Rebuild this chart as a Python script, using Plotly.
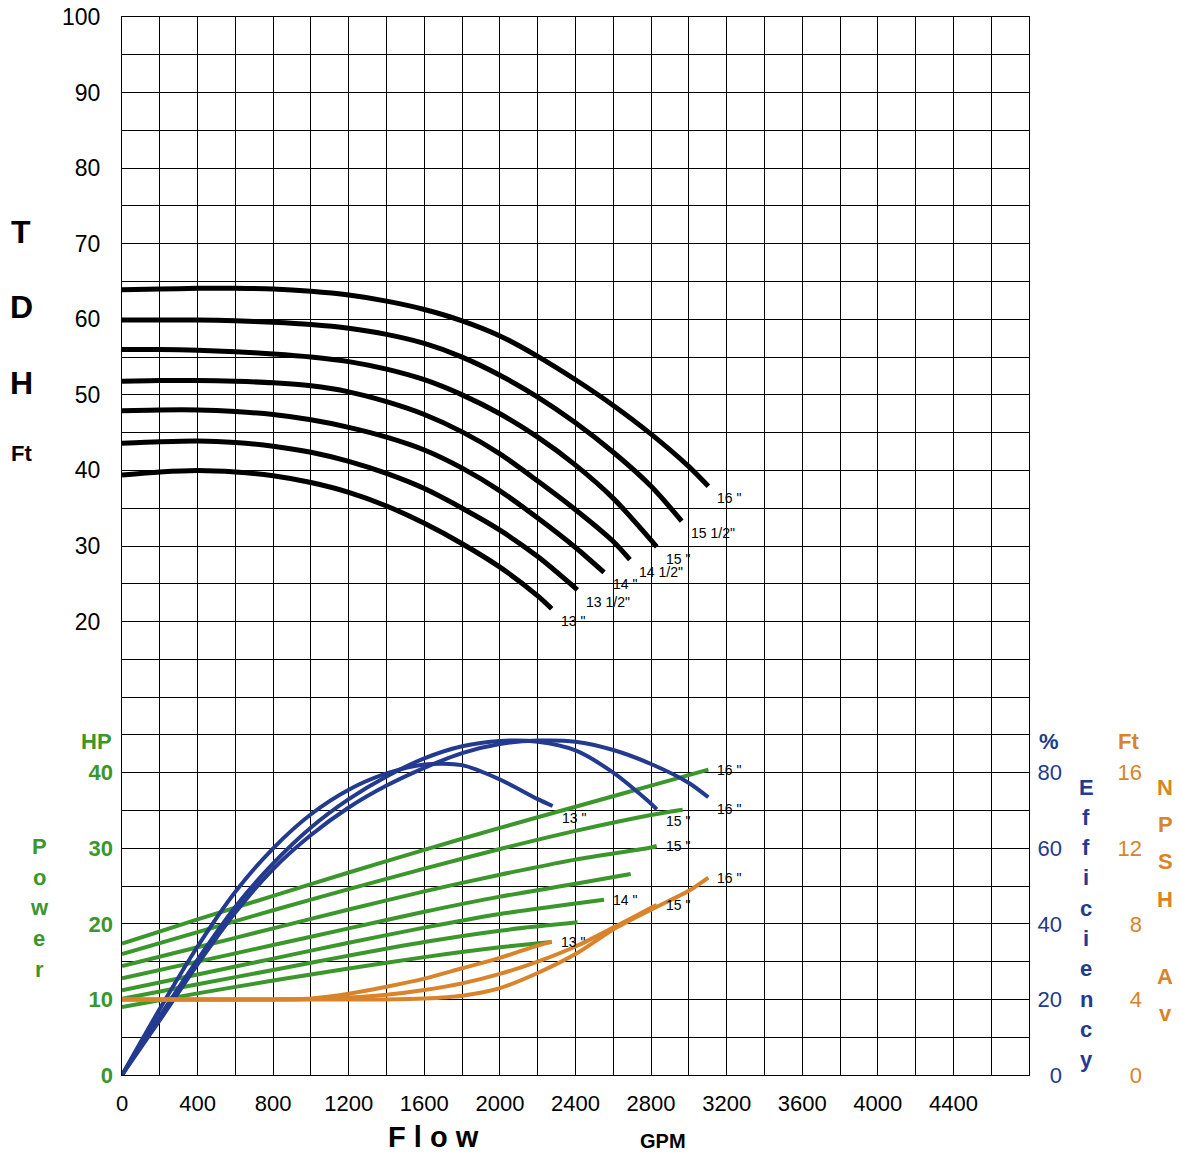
import plotly.graph_objects as go

# ---------------- data ----------------
# Head (TDH, ft) curves
head_q = {
    '16':   [0, 200, 400, 600, 800, 1000, 1200, 1400, 1600, 1800, 2000, 2200, 2400, 2600, 2800, 3000, 3103],
    '15.5': [0, 200, 400, 600, 800, 1000, 1200, 1400, 1600, 1800, 2000, 2200, 2400, 2600, 2800, 2962],
    '15':   [0, 200, 400, 600, 800, 1000, 1200, 1400, 1600, 1800, 2000, 2200, 2400, 2600, 2830],
    '14.5': [0, 200, 400, 600, 800, 1000, 1200, 1400, 1600, 1800, 2000, 2200, 2400, 2600, 2688],
    '14':   [0, 200, 400, 600, 800, 1000, 1200, 1400, 1600, 1800, 2000, 2200, 2400, 2551],
    '13.5': [0, 200, 400, 600, 800, 1000, 1200, 1400, 1600, 1800, 2000, 2200, 2410],
    '13':   [0, 200, 400, 600, 800, 1000, 1200, 1400, 1600, 1800, 2000, 2200, 2274],
}
head_h = {
    '16':   [63.9, 64.0, 64.1, 64.1, 64.0, 63.7, 63.2, 62.4, 61.3, 59.8, 57.8, 55.1, 52.0, 48.6, 44.8, 40.5, 37.9],
    '15.5': [59.9, 59.9, 59.9, 59.8, 59.6, 59.3, 58.8, 58.0, 56.8, 55.0, 52.6, 49.7, 46.3, 42.4, 37.9, 33.3],
    '15':   [56.0, 56.0, 55.9, 55.7, 55.4, 55.0, 54.4, 53.4, 52.0, 50.0, 47.5, 44.4, 40.7, 36.3, 29.9],
    '14.5': [51.8, 51.9, 51.9, 51.8, 51.6, 51.2, 50.4, 49.1, 47.4, 45.1, 42.2, 38.6, 34.8, 30.6, 28.2],
    '14':   [47.9, 48.0, 48.0, 47.8, 47.4, 46.7, 45.7, 44.4, 42.7, 40.3, 37.3, 33.7, 29.8, 26.5],
    '13.5': [43.6, 43.8, 43.9, 43.7, 43.2, 42.4, 41.2, 39.6, 37.6, 35.0, 32.1, 28.6, 24.2],
    '13':   [39.4, 39.8, 40.0, 39.8, 39.3, 38.4, 37.1, 35.3, 33.0, 30.3, 27.2, 23.4, 21.7],
}
head_labels = {'16': '16 "', '15.5': '15 1/2"', '15': '15 "', '14.5': '14 1/2"',
               '14': '14 "', '13.5': '13 1/2"', '13': '13 "'}

# Power (HP) curves
hp_q = {
    '16':   [0, 400, 800, 1200, 1600, 2000, 2400, 2800, 3103],
    '15.5': [0, 400, 800, 1200, 1600, 2000, 2400, 2800, 2967],
    '15':   [0, 400, 800, 1200, 1600, 2000, 2400, 2800, 2830],
    '14.5': [0, 400, 800, 1200, 1600, 2000, 2400, 2692],
    '14':   [0, 400, 800, 1200, 1600, 2000, 2400, 2551],
    '13.5': [0, 400, 800, 1200, 1600, 2000, 2411],
    '13':   [0, 400, 800, 1200, 1600, 2000, 2274],
}
hp_v = {
    '16':   [17.4, 20.6, 23.7, 26.8, 29.8, 32.7, 35.5, 38.3, 40.4],
    '15.5': [16.0, 18.9, 21.8, 24.6, 27.3, 29.9, 32.3, 34.4, 35.1],
    '15':   [14.4, 16.9, 19.4, 21.9, 24.3, 26.5, 28.5, 30.1, 30.3],
    '14.5': [12.8, 15.0, 17.2, 19.4, 21.6, 23.6, 25.3, 26.6],
    '14':   [11.2, 13.3, 15.4, 17.5, 19.5, 21.3, 22.7, 23.2],
    '13.5': [10.1, 12.0, 13.9, 15.8, 17.6, 19.1, 20.2],
    '13':   [9.0, 10.8, 12.5, 14.1, 15.6, 16.9, 17.6],
}
hp_labels = {'16': '16 "', '15': '15 "', '14': '14 "', '13': '13 "'}

# Efficiency (%) curves
eff_q = {
    '13': [0, 200, 400, 600, 800, 1000, 1200, 1400, 1600, 1800, 2000, 2200, 2279],
    '15': [0, 200, 400, 600, 800, 1000, 1200, 1400, 1600, 1800, 2000, 2200, 2400, 2600, 2800, 2830],
    '16': [0, 200, 400, 600, 800, 1000, 1200, 1400, 1600, 1800, 2000, 2200, 2400, 2600, 2800, 3000, 3103],
}
eff_v = {
    '13': [0, 17.5, 34.0, 48.5, 60.0, 69.0, 75.5, 79.8, 82.2, 82.0, 78.2, 73.0, 71.2],
    '15': [0, 15.5, 30.5, 44.5, 56.0, 65.5, 73.0, 79.0, 83.8, 87.0, 88.4, 88.2, 85.9, 80.0, 71.8, 70.3],
    '16': [0, 14.5, 29.3, 43.0, 54.5, 63.5, 70.8, 76.6, 81.3, 85.2, 87.6, 88.5, 88.2, 86.0, 82.3, 77.3, 73.5],
}

# NPSH available (ft) curves
npsh_q = {
    '13': [0, 200, 400, 600, 800, 1000, 1200, 1400, 1600, 1800, 2000, 2200, 2274],
    '15': [0, 200, 400, 600, 800, 1000, 1200, 1400, 1600, 1800, 2000, 2200, 2400, 2600, 2800, 2830],
    '16': [0, 200, 400, 600, 800, 1000, 1200, 1400, 1600, 1800, 2000, 2200, 2400, 2600, 2800, 3000, 3103],
}
npsh_v = {
    '13': [4.0, 4.0, 4.0, 4.0, 4.0, 4.05, 4.3, 4.67, 5.1, 5.65, 6.2, 6.85, 7.06],
    '15': [4.0, 4.0, 4.0, 4.0, 4.0, 4.02, 4.1, 4.25, 4.5, 4.85, 5.35, 6.0, 6.8, 7.8, 8.85, 9.0],
    '16': [4.0, 4.0, 4.0, 4.0, 4.0, 4.0, 4.0, 4.0, 4.05, 4.2, 4.6, 5.4, 6.4, 7.7, 8.75, 9.75, 10.45],
}

x_ticks = list(range(0, 4801, 200))
x_labels = [str(v) if (v % 400 == 0 and v < 4800) else '' for v in x_ticks]
tdh_ticks = list(range(-40, 101, 5))
tdh_labels = [str(v) if (v >= 20 and v % 10 == 0) else '' for v in tdh_ticks]
hp_ticks = [0, 10, 20, 30, 40]
eff_ticks = [0, 20, 40, 60, 80]
npsh_ticks = [0, 4, 8, 12, 16]

# ---------------- style ----------------
BLUE = '#233a8f'
GREEN = '#3b962b'
ORANGE = '#d9832a'
FONT = 'Liberation Sans, Arial, sans-serif'

W, H = 1180, 1153
L, R, T, B = 122, 20, 17, 78
PW = W - L - R
PH = H - T - B
XDOM = 907 / PW


def px(xp):
    return (xp - L) / PW


def py(yp):
    return (H - B - yp) / PH


fig = go.Figure()

for k in head_q:
    fig.add_trace(go.Scatter(x=head_q[k], y=head_h[k], mode='lines', yaxis='y',
                             line=dict(color='black', width=5, shape='spline', smoothing=0.8),
                             hoverinfo='skip', showlegend=False))
for k in hp_q:
    fig.add_trace(go.Scatter(x=hp_q[k], y=hp_v[k], mode='lines', yaxis='y2',
                             line=dict(color=GREEN, width=4, shape='spline', smoothing=0.8),
                             hoverinfo='skip', showlegend=False))
for k in eff_q:
    fig.add_trace(go.Scatter(x=eff_q[k], y=eff_v[k], mode='lines', yaxis='y3',
                             line=dict(color=BLUE, width=4, shape='spline', smoothing=0.8),
                             hoverinfo='skip', showlegend=False))
for k in npsh_q:
    fig.add_trace(go.Scatter(x=npsh_q[k], y=npsh_v[k], mode='lines', yaxis='y4',
                             line=dict(color=ORANGE, width=4, shape='spline', smoothing=0.8),
                             hoverinfo='skip', showlegend=False))

ann = []
lab_font = dict(family=FONT, size=14, color='black')


def end_label(text, xs, ys, yref, yshift):
    ann.append(dict(x=xs[-1], y=ys[-1], xref='x', yref=yref, text=text, showarrow=False,
                    xanchor='left', yanchor='middle', xshift=7, yshift=yshift, font=lab_font))


for k in head_q:
    end_label(head_labels[k], head_q[k], head_h[k], 'y', -12)
for k in hp_labels:
    end_label(hp_labels[k], hp_q[k], hp_v[k], 'y2', 0)
for k in eff_q:
    end_label(k + ' "', eff_q[k], eff_v[k], 'y3', -12)
for k in ['16', '15']:
    end_label(k + ' "', npsh_q[k], npsh_v[k], 'y4', 0)


def txt(text, xp, yp, size, color, bold=True, anchor='center'):
    ann.append(dict(x=px(xp), y=py(yp), xref='paper', yref='paper', text=text,
                    showarrow=False, xanchor=anchor, yanchor='middle',
                    font=dict(family=FONT, size=size, color=color,
                              weight='bold' if bold else 'normal')))


# TDH title
txt('T', 21, 232, 32, 'black')
txt('D', 21, 307, 32, 'black')
txt('H', 21, 383, 32, 'black')
txt('Ft', 21, 454, 22, 'black')
# Power title
txt('HP', 96, 741, 22, GREEN)
for i, ch in enumerate('Power'):
    txt(ch, 39, 847 + i * 30.5, 22, GREEN)
# Efficiency title
txt('%', 1049, 741, 22, BLUE)
for i, ch in enumerate('Efficiency'):
    txt(ch, 1086, 787 + i * 30.3, 22, BLUE)
# NPSH title
txt('Ft', 1128, 741, 22, ORANGE)
for ch, yy in zip('NPSH', [787, 824, 861, 899]):
    txt(ch, 1165, yy, 22, ORANGE)
for ch, yy in zip('Av', [976, 1013]):
    txt(ch, 1165, yy, 22, ORANGE)
# Flow title
txt('F l o w', 433, 1137, 29, 'black')
txt('GPM', 663, 1141, 20, 'black')

fig.update_layout(
    width=W, height=H,
    margin=dict(l=L, r=R, t=T, b=B, pad=0, autoexpand=False),
    paper_bgcolor='white', plot_bgcolor='white',
    showlegend=False,
    xaxis=dict(domain=[0, XDOM], range=[0, 4800], tickmode='array', tickvals=x_ticks,
               ticktext=x_labels, showgrid=True, gridcolor='black', gridwidth=1,
               showline=True, mirror=True, linecolor='black', linewidth=1,
               zeroline=False, ticks='', ticklabelstandoff=9, automargin=False,
               tickfont=dict(family=FONT, size=22, color='black')),
    yaxis=dict(range=[-40, 100], tickmode='array', tickvals=tdh_ticks, ticktext=tdh_labels,
               showgrid=True, gridcolor='black', gridwidth=1, showline=True, mirror=True,
               linecolor='black', linewidth=1, zeroline=False, ticks='', automargin=False,
               ticklabelstandoff=16, tickfont=dict(family=FONT, size=23, color='black')),
    yaxis2=dict(overlaying='y', anchor='x', side='left', range=[0, 140], tickmode='array',
                tickvals=hp_ticks, ticktext=[str(v) for v in hp_ticks], showgrid=False,
                showline=False, zeroline=False, ticks='', ticklabelstandoff=8, automargin=False,
                tickfont=dict(family=FONT, size=22, color=GREEN, weight='bold')),
    yaxis3=dict(overlaying='y', anchor='free', side='left', position=px(1062), range=[0, 280],
                tickmode='array', tickvals=eff_ticks, ticktext=[str(v) for v in eff_ticks],
                showgrid=False, showline=False, zeroline=False, ticks='', automargin=False,
                tickfont=dict(family=FONT, size=22, color=BLUE)),
    yaxis4=dict(overlaying='y', anchor='free', side='left', position=px(1142), range=[0, 56],
                tickmode='array', tickvals=npsh_ticks, ticktext=[str(v) for v in npsh_ticks],
                showgrid=False, showline=False, zeroline=False, ticks='', automargin=False,
                tickfont=dict(family=FONT, size=22, color=ORANGE)),
    annotations=ann,
)

fix_js = ("var d=document.getElementById('{plot_id}');"
          "document.body.style.margin='0';document.body.style.padding='0';"
          "document.documentElement.style.overflow='hidden';"
          "d.style.position='absolute';d.style.left='0px';d.style.top='0px';")

fig.write_html("out.html", post_script=fix_js, config={'displayModeBar': False})
